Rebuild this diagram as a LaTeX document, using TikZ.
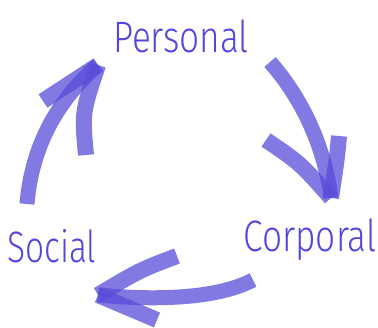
\documentclass[tikz,border=0pt]{standalone}
\usepackage{fontspec}
\newfontfamily\lblfont{Fira Sans}[UprightFont=* Light]
\definecolor{inkblue}{RGB}{82,70,222}
\definecolor{brushblue}{RGB}{88,76,216}
\tikzset{
  lbl/.style={text=inkblue, font=\lblfont\fontsize{44}{44}\selectfont, anchor=base, inner sep=0pt},
  brush/.style={draw=brushblue, draw opacity=0.75, line width=15pt, line cap=butt},
  barb/.style={brush, line width=16pt}
}
\begin{document}
\begin{tikzpicture}[x=1pt,y=1pt]
    \useasboundingbox (0,0) rectangle (378,328);

    % the three words
    \node[lbl] (per) at (181,275) {\scalebox{0.8}[1]{Personal}};
    \node[lbl] (cor) at (310,76) {\scalebox{0.8}[1]{Corporal}};
    \node[lbl] (soc) at (52,65) {\scalebox{0.76}[1]{Social}};

    % Personal -> Corporal
    \coordinate (ps) at (270,266);
    \coordinate (pt) at (331,130);
    \coordinate (pl) at (266,188);
    \coordinate (pr) at (339,192);
    \draw[brush] (ps) .. controls (300,232) and (324,185) .. (pt);
    \draw[barb] (pl) .. controls (300,165) .. (pt);
    \draw[barb] (pr) .. controls (337,170) .. (pt);

    % Corporal -> Social
    \coordinate (cs) at (253,48);
    \coordinate (ct) at (98,33);
    \coordinate (cu) at (177,72);
    \coordinate (cd) at (157,8);
    \draw[brush] (cs) .. controls (215,28) and (150,28) .. (ct);
    \draw[barb] (cu) .. controls (140,58) .. (ct);
    \draw[barb] (cd) -- (ct);

    % Social -> Personal
    \coordinate (ss) at (27,124);
    \coordinate (st) at (98,263);
    \coordinate (sl) at (43,227);
    \coordinate (sr) at (86,173);
    \draw[brush] (ss) .. controls (32,185) and (60,230) .. (st);
    \draw[barb] (sl) -- (st);
    \draw[barb] (sr) .. controls (82,215) .. (st);
\end{tikzpicture}
\end{document}
